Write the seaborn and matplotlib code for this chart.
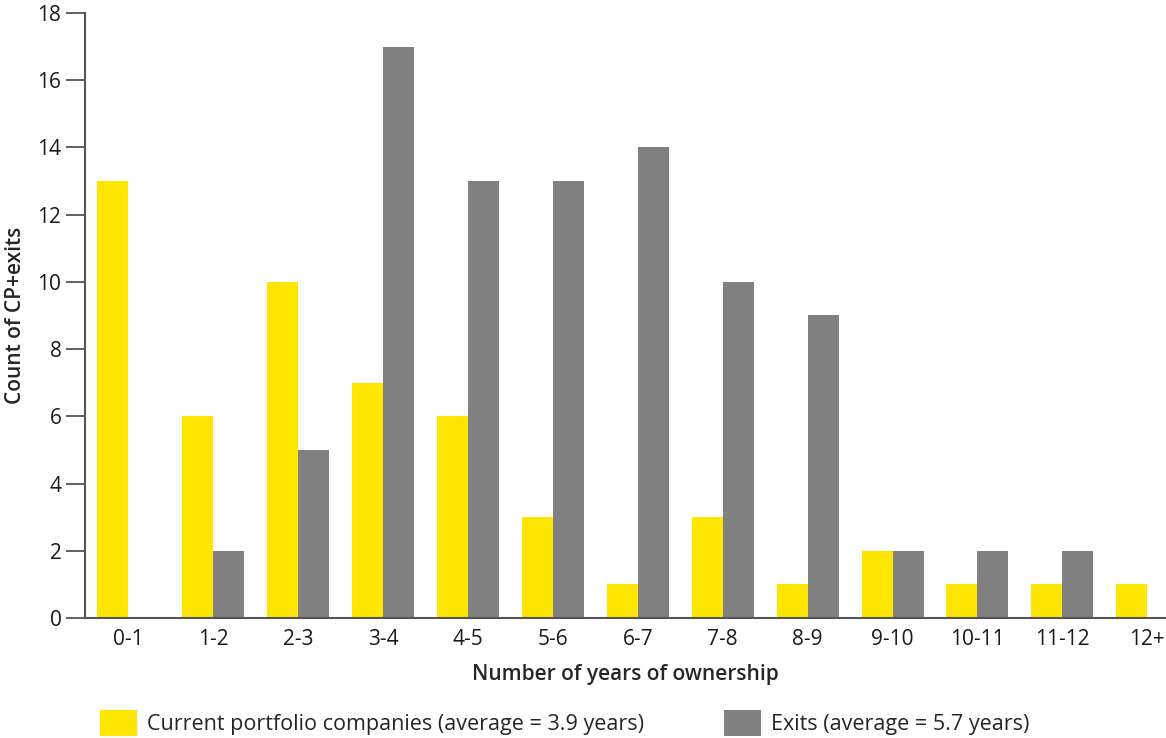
import numpy as np
import pandas as pd
import matplotlib.pyplot as plt
import seaborn as sns

# Data
years = ["0-1", "1-2", "2-3", "3-4", "4-5", "5-6", "6-7",
         "7-8", "8-9", "9-10", "10-11", "11-12", "12+"]
current_portfolio = [13, 6, 10, 7, 6, 3, 1, 3, 1, 2, 1, 1, 1]
exits = [0, 2, 5, 17, 13, 13, 14, 10, 9, 2, 2, 2, 0]

cp_label = "Current portfolio companies (average = 3.9 years)"
ex_label = "Exits (average = 5.7 years)"

df = pd.DataFrame({
    "Years": years * 2,
    "Count": current_portfolio + exits,
    "Series": [cp_label] * len(years) + [ex_label] * len(years),
})

sns.set_style("white")
plt.rcParams["font.family"] = ["Open Sans", "DejaVu Sans"]

fig = plt.figure(figsize=(11.66, 7.38), dpi=100)
ax = fig.add_axes([0.0729, 0.1626, 0.9271, 0.8198])

sns.barplot(
    data=df, x="Years", y="Count", hue="Series",
    palette=["#FFE600", "#808080"], width=0.73, gap=0,
    saturation=1, linewidth=0, ax=ax, legend=True,
)

ax.set_xlim(-0.51, 12.22)
ax.set_ylim(0, 18)
ax.set_yticks(np.arange(0, 19, 2))
ax.tick_params(axis="y", left=True, length=14, width=1.3, color="#555555",
               labelsize=15, pad=3, labelcolor="#1a1a1a")
ax.tick_params(axis="x", bottom=False, length=0, labelsize=15, pad=8, labelcolor="#1a1a1a")
for s in ["top", "right"]:
    ax.spines[s].set_visible(False)
for s in ["left", "bottom"]:
    ax.spines[s].set_color("#555555")
    ax.spines[s].set_linewidth(1.5)

ax.set_xlabel("Number of years of ownership", fontsize=15, fontweight="semibold", labelpad=10)
ax.set_ylabel("Count of CP+exits", fontsize=15, fontweight="semibold", labelpad=8)

handles, labels = ax.get_legend_handles_labels()
ax.get_legend().remove()
fig.legend(handles, labels, loc="upper left", bbox_to_anchor=(0.078, 0.05),
           ncol=2, frameon=False, fontsize=15.5, handlelength=1.75, handleheight=1.5,
           columnspacing=3.7, handletextpad=0.45, borderaxespad=0)

fig.savefig("out.png", dpi=100)
